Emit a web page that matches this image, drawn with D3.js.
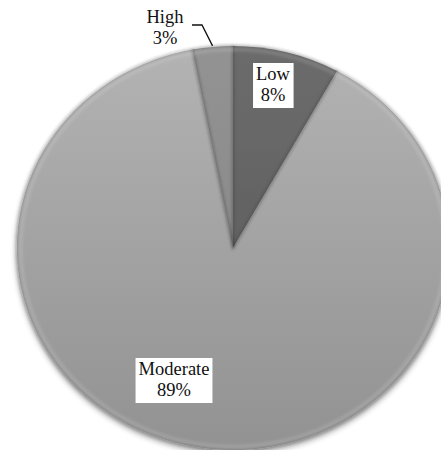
<!DOCTYPE html>
<html>
<head>
<meta charset="utf-8">
<script src="https://cdn.jsdelivr.net/npm/d3@7/dist/d3.min.js"></script>
<style>
  html, body { margin: 0; padding: 0; background: #fff; overflow: hidden; }
  svg { display: block; }
  text { font-family: "Liberation Serif", "Times New Roman", serif; font-size: 18.5px; fill: #111; }
</style>
</head>
<body>
<svg id="chart" width="441" height="450"></svg>
<script>
// Risk level shares
const categories = ["Low", "Moderate", "High"];
const shares = [8, 89, 3];
const percentLabels = ["8%", "89%", "3%"];

const svg = d3.select("#chart");
const cx = 233, cy = 248;
const R = 202;          // vertical radius
const sx = 1.07;        // horizontal stretch of the pie

const defs = svg.append("defs");

// vertical gradients giving the soft lighting on each slice
const fills = {
  Low: ["#6c6c6c", "#575757"],
  Moderate: ["#b3b3b3", "#929292"],
  High: ["#939393", "#818181"]
};
categories.forEach(c => {
  const g = defs.append("linearGradient")
    .attr("id", "grad-" + c)
    .attr("gradientUnits", "userSpaceOnUse")
    .attr("x1", 0).attr("y1", -R).attr("x2", 0).attr("y2", R);
  g.append("stop").attr("offset", "0%").attr("stop-color", fills[c][0]);
  g.append("stop").attr("offset", "100%").attr("stop-color", fills[c][1]);
});

// soft drop shadow below the pie
const shadow = defs.append("filter").attr("id", "shadow")
  .attr("x", "-20%").attr("y", "-20%").attr("width", "140%").attr("height", "140%");
shadow.append("feGaussianBlur").attr("in", "SourceAlpha").attr("stdDeviation", 3).attr("result", "b");
shadow.append("feOffset").attr("in", "b").attr("dy", 3).attr("result", "o");
shadow.append("feComponentTransfer").attr("in", "o").attr("result", "s")
  .append("feFuncA").attr("type", "linear").attr("slope", 0.45);
const merge = shadow.append("feMerge");
merge.append("feMergeNode").attr("in", "s");
merge.append("feMergeNode").attr("in", "SourceGraphic");

// blur for the bevel edge highlights
const bevel = defs.append("filter").attr("id", "bevel");
bevel.append("feGaussianBlur").attr("stdDeviation", 1.4);

const pie = d3.pie().sort(null).value(d => d.value);
const data = categories.map((c, i) => ({ name: c, value: shares[i], label: percentLabels[i] }));
const arcs = pie(data);

const arc = d3.arc().innerRadius(0).outerRadius(R);
const rimArc = d3.arc().innerRadius(R - 5).outerRadius(R - 2);

const g = svg.append("g").attr("transform", `translate(${cx},${cy}) scale(${sx},1)`);

const pieG = g.append("g").attr("filter", "url(#shadow)");
pieG.selectAll("path.slice")
  .data(arcs)
  .enter().append("path")
  .attr("class", "slice")
  .attr("d", arc)
  .attr("fill", d => `url(#grad-${d.data.name})`);

// bevel: faint light inner rim and darker outline along each slice
const bevelG = g.append("g").attr("filter", "url(#bevel)");
bevelG.selectAll("path.rim")
  .data(arcs)
  .enter().append("path")
  .attr("class", "rim")
  .attr("d", rimArc)
  .attr("fill", "#ffffff")
  .attr("opacity", 0.15);
bevelG.selectAll("path.edge")
  .data(arcs)
  .enter().append("path")
  .attr("class", "edge")
  .attr("d", arc)
  .attr("fill", "none")
  .attr("stroke", "#3a3a3a")
  .attr("stroke-width", 1.3)
  .attr("stroke-opacity", 0.5)
  .attr("vector-effect", "non-scaling-stroke");

// point on the stretched pie for a given angle and radius
function pt(angle, r) {
  return [cx + sx * r * Math.sin(angle), cy - r * Math.cos(angle)];
}

// label placement: offset of the first baseline from the pie centre
const labelLayout = {
  Low: { dx: 40, dy: -168, box: true },
  Moderate: { dx: -59, dy: 127, box: true },
  High: { dx: -68, dy: -225, box: false }
};

const lineH = 21;
arcs.forEach(a => {
  const mid = (a.startAngle + a.endAngle) / 2;
  const L = labelLayout[a.data.name];
  const lx = cx + L.dx, ly = cy + L.dy;
  const lg = svg.append("g").attr("transform", `translate(${lx},${ly})`);
  const t = lg.append("text").attr("text-anchor", "middle");
  t.append("tspan").attr("x", 0).attr("y", 0).text(a.data.name);
  t.append("tspan").attr("x", 0).attr("y", lineH).text(a.data.label);
  if (L.box) {
    const bb = t.node().getBBox();
    lg.insert("rect", "text")
      .attr("x", bb.x - 3).attr("y", bb.y - 1)
      .attr("width", bb.width + 6).attr("height", bb.height + 4)
      .attr("fill", "#ffffff");
  } else {
    // leader line from the label to the slice edge
    const [ex, ey] = pt(mid, R + 1);
    const sxp = lx + 27, syp = ly + 2;
    svg.append("polyline")
      .attr("points", [[sxp, syp], [sxp + 10, syp], [ex, ey]].map(p => p.join(",")).join(" "))
      .attr("fill", "none")
      .attr("stroke", "#111")
      .attr("stroke-width", 1.3);
  }
});
</script>
</body>
</html>
